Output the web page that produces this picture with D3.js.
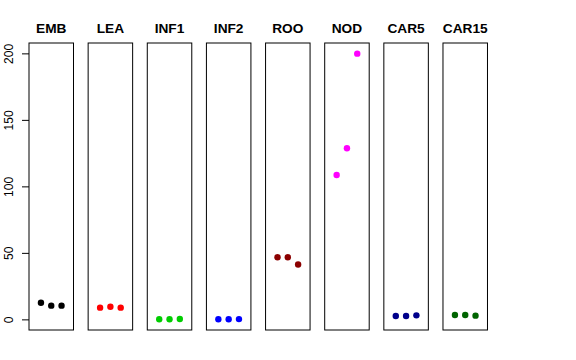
<!DOCTYPE html>
<html>
<head>
<meta charset="utf-8">
<script src="https://cdn.jsdelivr.net/npm/d3@7"></script>
<style>
  body { margin: 0; background: #fff; }
  text { font-family: "Liberation Sans", Arial, sans-serif; }
</style>
</head>
<body>
<svg id="chart" width="576" height="360"></svg>
<script>
// panel names and colours
const groups = ["EMB", "LEA", "INF1", "INF2", "ROO", "NOD", "CAR5", "CAR15"];
const colors = ["#000000", "#FF0000", "#00CD00", "#0000FF", "#8B0000", "#FF00FF", "#00008B", "#006400"];
// three replicate values per panel
const values = [
  [12.5, 10.3, 10.3],
  [8.8, 9.5, 8.8],
  [0.1, 0.1, 0.3],
  [0.1, 0.1, 0.2],
  [46.7, 46.7, 41.3],
  [108.5, 128.7, 199.8],
  [2.5, 2.5, 3.0],
  [3.3, 3.3, 2.8]
];
const yTicks = [0, 50, 100, 150, 200];

const svg = d3.select("#chart");
const plotTop = 43, plotBottom = 330;
const panelW = 44.5, step = 59.14, left0 = 29;

const y = d3.scaleLinear().domain([-8, 207.8]).range([plotBottom, plotTop]);
const x = d3.scaleLinear().domain([-0.16, 4.16]).range([0, panelW]);

// y axis on the first panel
const yAxis = svg.append("g")
  .attr("transform", "translate(" + left0 + ",0)")
  .call(d3.axisLeft(y).tickValues(yTicks).tickSize(7).tickPadding(0));
yAxis.select(".domain").remove();
yAxis.selectAll("line").attr("stroke", "#000");
yAxis.selectAll("text")
  .attr("fill", "#000")
  .attr("font-size", 12)
  .attr("font-family", "Liberation Sans, Arial, sans-serif")
  .attr("transform", "rotate(-90)")
  .attr("x", 0)
  .attr("y", -16)
  .attr("dy", 0)
  .style("text-anchor", "middle");

groups.forEach((g, i) => {
  const px = left0 + i * step;
  const panel = svg.append("g").attr("transform", "translate(" + px + ",0)");

  panel.append("rect")
    .attr("x", 0).attr("y", plotTop)
    .attr("width", panelW).attr("height", plotBottom - plotTop)
    .attr("fill", "none").attr("stroke", "#000").attr("stroke-width", 1);

  panel.append("text")
    .attr("x", panelW / 2).attr("y", 33)
    .attr("text-anchor", "middle")
    .attr("font-weight", "bold")
    .attr("font-size", 13.7)
    .text(g);

  panel.selectAll("circle")
    .data(values[i])
    .enter()
    .append("circle")
    .attr("cx", (d, j) => x(j + 1))
    .attr("cy", d => y(d))
    .attr("r", 3.2)
    .attr("fill", colors[i]);
});
</script>
</body>
</html>
